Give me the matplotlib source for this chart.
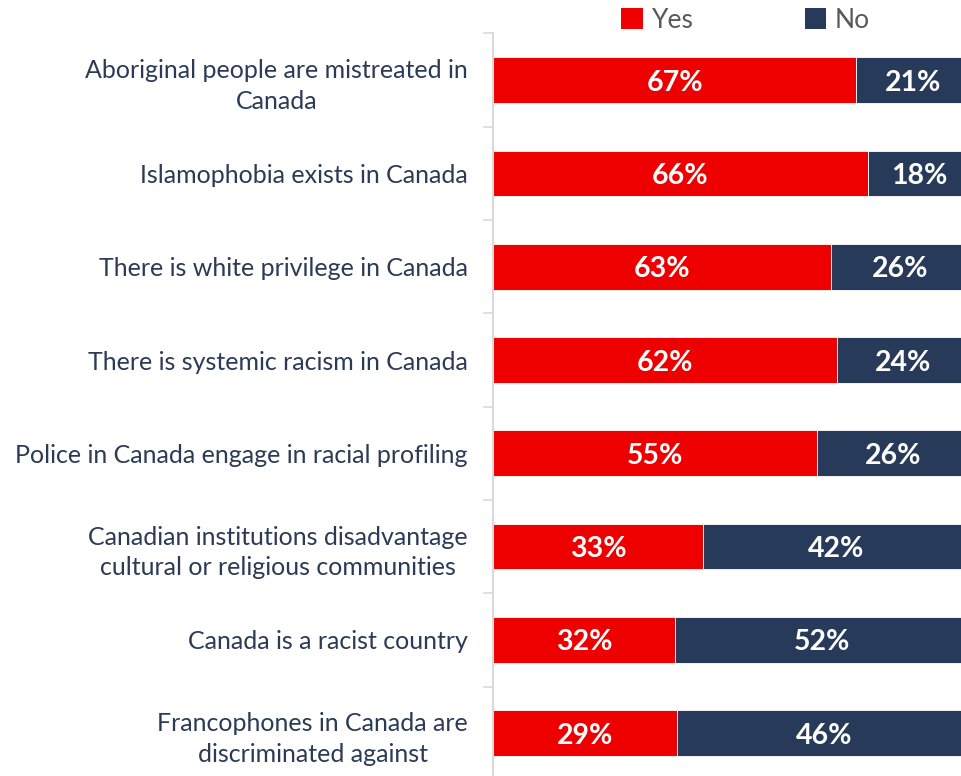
import matplotlib
matplotlib.use("Agg")
import matplotlib.pyplot as plt
from matplotlib.patches import Patch
import numpy as np

categories = [
    "Aboriginal people are mistreated in\nCanada",
    "Islamophobia exists in Canada",
    "There is white privilege in Canada",
    "There is systemic racism in Canada",
    "Police in Canada engage in racial profiling",
    "Canadian institutions disadvantage\ncultural or religious communities",
    "Canada is a racist country",
    "Francophones in Canada are\ndiscriminated against",
]
yes_pct = [67, 66, 63, 62, 55, 33, 32, 29]
no_pct = [21, 18, 26, 24, 26, 42, 52, 46]

RED = "#EE0000"
NAVY = "#283A59"
LABEL = "#2B3A55"
GRID = "#D9D9D9"

plt.rcParams["font.family"] = ["Lato", "DejaVu Sans"]

fig = plt.figure(figsize=(9.61, 7.76), dpi=100)
ax = fig.add_axes([0.513, -0.005, 0.4964, 0.9619])

yes = np.array(yes_pct, dtype=float)
no = np.array(no_pct, dtype=float)
total = yes + no
yes_share = yes / total
no_share = no / total
y = np.arange(len(categories))

h = 0.49
ax.barh(y, yes_share, height=h, color=RED, edgecolor="white", linewidth=0.6)
ax.barh(y, no_share, left=yes_share, height=h, color=NAVY, edgecolor="white", linewidth=0.6)

for i in range(len(categories)):
    ax.text(yes_share[i] / 2, y[i], f"{yes_pct[i]}%", ha="center", va="center_baseline",
            color="white", fontsize=20.5, fontweight="bold")
    ax.text(yes_share[i] + no_share[i] / 2, y[i], f"{no_pct[i]}%", ha="center",
            va="center_baseline", color="white", fontsize=20.5, fontweight="bold")

ax.set_xlim(0, 1)
ax.set_ylim(len(categories) - 0.5, -0.5)

ax.set_yticks(y)
ax.set_yticklabels(categories, fontsize=18, color=LABEL)
for t in ax.get_yticklabels():
    t.set_multialignment("center")
    t.set_linespacing(1.4)
ax.set_yticks(np.arange(-0.5, len(categories), 1.0), minor=True)
ax.tick_params(axis="y", which="major", length=0, pad=18)
ax.tick_params(axis="y", which="minor", length=7, width=1.2, color=GRID, direction="out")
ax.set_xticks([])

for s in ["top", "right", "bottom"]:
    ax.spines[s].set_visible(False)
ax.spines["left"].set_color(GRID)
ax.spines["left"].set_linewidth(1.5)

handles = [Patch(facecolor=RED, label="Yes"), Patch(facecolor=NAVY, label="No")]
fig.legend(handles=handles, loc="center", bbox_to_anchor=(0.776, 0.974), ncol=2,
           frameon=False, fontsize=19, handlelength=0.8, handleheight=0.8,
           handletextpad=0.35, columnspacing=4.2, labelcolor="#595959")

fig.savefig("out.png", dpi=100)
